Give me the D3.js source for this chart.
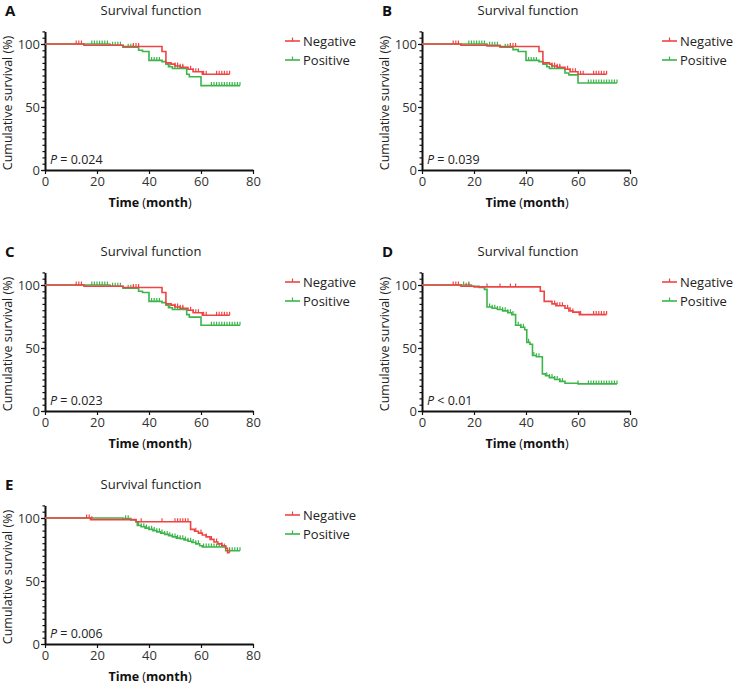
<!DOCTYPE html>
<html>
<head>
<meta charset="utf-8">
<style>
  body { margin: 0; background: #fff; }
  svg text { font-family: "Open Sans", "Noto Sans", sans-serif; fill: #222; }
  .axis .domain { stroke: #111; stroke-width: 2px; }
  .axis line { stroke: #111; stroke-width: 1.2px; }
  .axis text { font-size: 13px; fill: #333; }
  .curve { fill: none; stroke-width: 1.6px; }
  .cens { stroke-width: 1.2px; }
</style>
</head>
<body>
<div id="chart"></div>
<script src="https://d3js.org/d3.v7.min.js"></script>
<script>
// tick labels and text
var monthTicks = [0, 20, 40, 60, 80];
var survTicks = [0, 50, 100];
var letters = ["A", "B", "C", "D", "E"];
var pSigns = ["=", "=", "=", "<", "="];
var pValues = ["0.024", "0.039", "0.023", "0.01", "0.006"];
var groupNames = ["Negative", "Positive"];
var groupColors = ["#f04444", "#3cb54b"];

// Kaplan-Meier steps: [month, cumulative survival %], and censored months
var negStepsA = [[0,100],[15,99],[30,98],[45,94],[46.5,85],[48.5,84],[50,82.5],[52,81.5],[55,80],[57,78],[60.5,76]];
var negCensA  = [12,13,14,34,35,36,50,51,52,53,56,57,58,59,61,62,66,67,68,69,70,71];
var posStepsA = [[0,100],[25,99],[30,97.5],[36,95],[37.5,94],[40,87],[45,86],[46.5,84],[47.5,82],[49,80.5],[54.5,76],[55.5,74],[60,67]];
var posCensA  = [18,19,20,21,22,23,24,26,27,28,29,32,33,34,41,42,43,44,48,50,51,52,53,64,65,66,67,68,69,70,71,72,73,74,75];

var negStepsB = [[0,100],[15,99],[25,98.5],[30,98],[45,94],[46.5,85],[49,84],[50,82.5],[52,81.5],[55,80],[57,78],[60,76]];
var negCensB  = [12,13,14,34,35,36,50,51,52,53,56,57,58,59,61,62,66,67,68,69,70,71];
var posStepsB = [[0,100],[25,99],[30,97.5],[35,95.5],[37,94],[40,87],[45,86],[46.5,84],[48,82],[49,80.5],[55,77],[56.5,75.5],[60,69]];
var posCensB  = [18,19,20,21,22,23,24,26,27,28,29,32,33,34,41,42,43,44,48,50,51,52,53,64,65,66,67,68,69,70,71,72,73,74,75];

var negStepsC = [[0,100],[15,99],[30,98],[45,94],[46.5,85],[48.5,84],[50,82.5],[52,81.5],[55,80],[57,78],[60.5,76]];
var negCensC  = [12,13,14,34,35,36,50,51,52,53,56,57,58,59,61,62,66,67,68,69,70,71];
var posStepsC = [[0,100],[25,99],[30,97.5],[36,95],[37.5,94],[40,87],[45,86],[46.5,84],[47.5,82],[49,80.5],[54.5,76.5],[55.5,74.5],[60,68]];
var posCensC  = [18,19,20,21,22,23,24,26,27,28,29,32,33,34,41,42,43,44,48,50,51,52,53,64,65,66,67,68,69,70,71,72,73,74,75];

var negStepsD = [[0,100],[15,99],[20,98.5],[45.5,95],[47,87],[50,85],[51.5,83.5],[55,81.5],[56.5,79.5],[58,78.5],[60.5,76.5]];
var negCensD  = [12,13,14,17,18,25,30,34,36,51,52,53,54,56,57,58,61,66,67,68,69,70,71];
var posStepsD = [[0,100],[19,99],[22,98],[24,96.5],[25,82.5],[27,81.5],[29,80.5],[31,79.5],[33,78],[34.5,76.5],[36,68],[38,66.5],[39.5,64.5],[40.3,54.5],[41.5,53],[42.5,44],[44,43],[46.3,29.5],[47.5,28],[49,26.5],[51,25],[53,23.5],[55,22],[60,21.5]];
var posCensD  = [16,18,26,27,28,29,30,31,32,33,34,35,37,38,39,41,43,44,45,48,49,50,51,52,53,54,60,64,65,66,67,68,69,70,71,72,73,74,75];

var negStepsE = [[0,100],[17.5,98.7],[35,97],[56,91],[57.5,89.5],[59,88],[60.5,86.5],[62,85],[63.5,83],[65,81],[66.5,79.5],[68,78],[69.5,76],[70.2,72.5]];
var negCensE  = [16,17,18,37,45,50,51,52,53,54,55,58,60,62,64,66,68,71];
var posStepsE = [[0,100],[30,99.5],[33,98.5],[35,97],[35.5,94],[37,93],[38.5,92],[40,91],[41.5,90],[43,89],[44.5,88],[46,87],[47.5,86],[49,85],[50.5,84],[52,83.5],[53.5,82.5],[55,81.5],[56.5,80.5],[58,79.5],[59.5,78],[60.5,77],[69.5,74]];
var posCensE  = [31,32,36,37,38,39,40,41,42,43,44,45,46,47,48,49,50,51,52,53,54,55,56,57,58,59,61,62,63,64,65,66,67,68,69,71,72,73,74,75];

var panels = [
  {neg: [negStepsA, negCensA], pos: [posStepsA, posCensA]},
  {neg: [negStepsB, negCensB], pos: [posStepsB, posCensB]},
  {neg: [negStepsC, negCensC], pos: [posStepsC, posCensC]},
  {neg: [negStepsD, negCensD], pos: [posStepsD, posCensD]},
  {neg: [negStepsE, negCensE], pos: [posStepsE, posCensE]}
];
var panelX = [0, 377, 0, 377, 0];
var panelY = [0, 0, 241, 241, 474];

var svg = d3.select("#chart").append("svg")
  .attr("width", 733)
  .attr("height", 687);

var x = d3.scaleLinear().domain([0, 80]).range([0, 208]);
var y = d3.scaleLinear().domain([0, 110]).range([126, -12.6]);

// survival value of a step curve at month t
function survAt(steps, t) {
  var s = steps[0][1];
  steps.forEach(function(d) { if (d[0] <= t) s = d[1]; });
  return s;
}

var stepLine = d3.line()
  .x(function(d) { return x(d[0]); })
  .y(function(d) { return y(d[1]); })
  .curve(d3.curveStepAfter);

panels.forEach(function(p, i) {
  var panel = svg.append("g")
    .attr("transform", "translate(" + panelX[i] + "," + panelY[i] + ")");

  panel.append("text")
    .attr("x", 5).attr("y", 16)
    .style("font-size", "15px").style("font-weight", "bold").style("fill", "#111")
    .text(letters[i]);

  panel.append("text")
    .attr("x", 151).attr("y", 15)
    .attr("text-anchor", "middle")
    .style("font-size", "13px")
    .text("Survival function");

  var g = panel.append("g").attr("transform", "translate(45,44)");

  // minor y ticks every 5%
  g.append("g")
    .attr("class", "axis")
    .call(d3.axisLeft(y).tickValues(d3.range(0, 111, 5)).tickSize(2.5).tickFormat(""))
    .select(".domain").remove();

  g.append("g")
    .attr("class", "axis")
    .call(d3.axisLeft(y).tickValues(survTicks).tickSize(4).tickSizeOuter(0).tickPadding(1));

  g.append("g")
    .attr("class", "axis")
    .attr("transform", "translate(0," + y(0) + ")")
    .call(d3.axisBottom(x).tickValues(monthTicks).tickSize(4).tickSizeOuter(0).tickPadding(3));

  // axis titles
  var xt = g.append("text")
    .attr("x", x(40) + 1).attr("y", y(0) + 37)
    .attr("text-anchor", "middle")
    .style("font-size", "12.5px").style("fill", "#111");
  xt.append("tspan").style("font-weight", "bold").text("Time");
  xt.append("tspan").text(" (");
  xt.append("tspan").style("font-weight", "bold").text("month");
  xt.append("tspan").text(")");

  g.append("text")
    .attr("transform", "translate(-33," + (y(50) - 4) + ") rotate(-90)")
    .attr("text-anchor", "middle")
    .style("font-size", "12.5px")
    .text("Cumulative survival (%)");

  var pt = g.append("text")
    .attr("x", 5).attr("y", y(0) - 6)
    .style("font-size", "12.5px");
  pt.append("tspan").style("font-style", "italic").text("P");
  pt.append("tspan").text(" " + pSigns[i] + " " + pValues[i]);

  // curves: positive first so negative lies on top
  [p.pos, p.neg].forEach(function(grp, k) {
    var color = groupColors[1 - k];
    var steps = grp[0], cens = grp[1];
    var end = d3.max(cens);
    var pts = steps.concat([[end, steps[steps.length - 1][1]]]);
    g.append("path")
      .attr("class", "curve")
      .attr("stroke", color)
      .attr("d", stepLine(pts));
    g.selectAll(null)
      .data(cens)
      .enter().append("line")
      .attr("class", "cens")
      .attr("stroke", color)
      .attr("x1", function(t) { return x(t); })
      .attr("x2", function(t) { return x(t); })
      .attr("y1", function(t) { return y(survAt(steps, t)); })
      .attr("y2", function(t) { return y(survAt(steps, t)) - 3.5; });
  });

  // legend
  groupNames.forEach(function(name, k) {
    var ly = 41 + k * 19;
    var lg = panel.append("g");
    lg.append("line")
      .attr("x1", 285).attr("x2", 300).attr("y1", ly).attr("y2", ly)
      .attr("stroke", groupColors[k]).attr("stroke-width", 1.6);
    lg.append("line")
      .attr("x1", 292.5).attr("x2", 292.5).attr("y1", ly).attr("y2", ly - 3.5)
      .attr("stroke", groupColors[k]).attr("stroke-width", 1.2);
    lg.append("text")
      .attr("x", 303).attr("y", ly).attr("dy", "0.35em")
      .style("font-size", "13px")
      .text(name);
  });
});
</script>
</body>
</html>
